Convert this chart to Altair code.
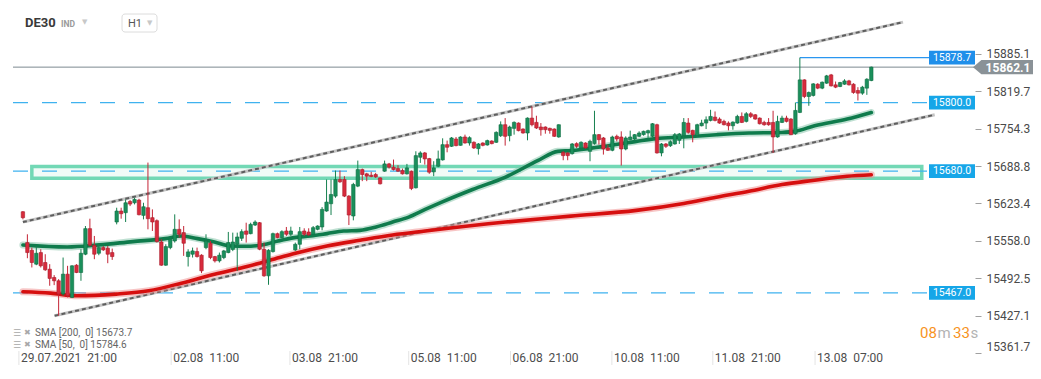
import altair as alt
import pandas as pd

# ---------------- data ----------------
opens = [15609.0, 15555.0, 15541.6, 15517.2, 15537.5, 15520.1, 15508.4, 15493.9, 15488.1, 15464.9,
         15499.7, 15459.0, 15515.4, 15502.6, 15534.6, 15579.4, 15550.3, 15536.3, 15546.2, 15545.1,
         15537.5, 15591.0, 15610.2, 15607.3, 15627.0, 15624.7, 15629.4, 15602.6, 15616.0, 15598.6,
         15593.3, 15556.1, 15515.4, 15546.2, 15557.8, 15578.2, 15572.4, 15530.5, 15534.6, 15539.3,
         15532.9, 15546.2, 15553.8, 15530.5, 15523.0, 15528.8, 15537.5, 15543.0, 15552.0, 15562.5,
         15575.3, 15570.6, 15585.7, 15589.8, 15543.3, 15496.8, 15539.2, 15570.6, 15563.7, 15575.3,
         15569.5, 15542.2, 15552.0, 15575.3, 15573.5, 15569.5, 15578.2, 15582.3, 15610.2, 15623.0,
         15636.3, 15665.4, 15665.4, 15636.3, 15601.5, 15653.8, 15682.8, 15675.3, 15672.9, 15674.1,
         15668.2, 15679.9, 15692.7, 15686.9, 15684.6, 15681.1, 15675.3, 15679.9, 15650.9, 15704.3,
         15711.9, 15702.0, 15678.8, 15688.6, 15699.7, 15726.4, 15723.5, 15736.3, 15725.2, 15739.8,
         15729.3, 15730.5, 15719.4, 15729.3, 15725.8, 15732.8, 15730.5, 15742.1, 15761.3, 15742.1,
         15754.9, 15764.2, 15753.8, 15746.8, 15772.9, 15765.4, 15757.3, 15757.3, 15754.9, 15753.8,
         15739.8, 15713.0, 15711.9, 15710.7, 15728.2, 15720.6, 15729.3, 15714.8, 15728.2, 15743.9,
         15738.1, 15720.6, 15716.5, 15741.0, 15739.8, 15718.8, 15735.1, 15736.3, 15741.0, 15743.9,
         15746.8, 15741.0, 15761.3, 15711.9, 15727.6, 15724.6, 15727.6, 15734.0, 15742.1, 15764.2,
         15751.4, 15742.1, 15759.5, 15764.2, 15768.8, 15774.6, 15771.2, 15767.1, 15764.2, 15759.5,
         15764.2, 15775.8, 15767.1, 15780.5, 15778.7, 15772.9, 15765.3, 15765.3, 15765.3, 15739.8,
         15765.3, 15772.9, 15771.2, 15745.6, 15782.8, 15839.8, 15810.7, 15812.5, 15832.2, 15825.3,
         15834.0, 15848.5, 15831.1, 15828.2, 15832.2, 15838.0, 15832.2, 15821.2, 15816.5, 15825.3,
         15838.6]
highs = [15610.2, 15569.5, 15546.2, 15549.1, 15543.3, 15534.6, 15517.2, 15498.0, 15491.0, 15528.8,
         15514.3, 15515.4, 15517.2, 15543.3, 15584.0, 15596.8, 15566.6, 15552.1, 15549.1, 15549.1,
         15544.5, 15616.0, 15616.0, 15630.5, 15629.4, 15633.4, 15631.7, 15624.7, 15695.0, 15613.1,
         15595.6, 15560.8, 15552.1, 15563.7, 15604.4, 15595.6, 15584.0, 15543.3, 15546.2, 15546.2,
         15534.6, 15569.5, 15557.8, 15531.7, 15537.5, 15542.2, 15573.6, 15572.4, 15572.4, 15578.2,
         15589.8, 15589.8, 15593.9, 15591.0, 15555.0, 15543.3, 15572.4, 15572.4, 15576.5, 15582.3,
         15582.8, 15555.0, 15582.3, 15580.0, 15580.0, 15584.0, 15585.2, 15617.1, 15665.4, 15665.4,
         15681.1, 15681.1, 15671.2, 15638.1, 15659.6, 15698.5, 15684.6, 15677.0, 15678.8, 15677.0,
         15669.4, 15698.5, 15694.4, 15700.3, 15690.4, 15684.6, 15692.7, 15681.1, 15714.8, 15714.8,
         15713.6, 15703.2, 15697.4, 15716.0, 15737.5, 15733.5, 15739.8, 15739.8, 15741.0, 15743.9,
         15741.0, 15732.2, 15729.3, 15730.5, 15735.1, 15734.0, 15749.7, 15767.1, 15772.9, 15759.6,
         15767.1, 15765.4, 15754.9, 15774.1, 15793.3, 15777.0, 15764.2, 15758.4, 15756.1, 15754.9,
         15761.9, 15714.8, 15713.0, 15729.3, 15730.5, 15732.2, 15730.5, 15735.1, 15785.7, 15745.0,
         15739.8, 15726.4, 15742.1, 15743.9, 15749.7, 15741.0, 15750.9, 15745.0, 15749.7, 15750.9,
         15752.6, 15764.2, 15763.0, 15729.3, 15729.3, 15734.0, 15746.8, 15746.8, 15772.9, 15772.9,
         15752.5, 15763.0, 15770.0, 15775.8, 15787.4, 15784.5, 15774.1, 15770.0, 15767.1, 15767.1,
         15778.7, 15782.8, 15783.4, 15783.4, 15779.9, 15774.1, 15768.2, 15772.9, 15785.7, 15777.0,
         15777.0, 15777.0, 15772.9, 15800.2, 15878.7, 15840.9, 15819.4, 15834.0, 15834.0, 15836.9,
         15848.5, 15850.2, 15836.9, 15836.3, 15840.9, 15839.8, 15834.0, 15827.0, 15829.3, 15842.7,
         15863.0]
lows = [15595.6, 15527.6, 15511.4, 15515.4, 15511.4, 15505.5, 15479.4, 15480.5, 15427.1, 15461.9,
        15459.0, 15457.9, 15501.5, 15488.1, 15532.9, 15548.0, 15525.9, 15532.9, 15540.4, 15518.9,
        15524.7, 15586.9, 15596.8, 15591.0, 15618.9, 15621.8, 15602.6, 15595.6, 15578.2, 15575.3,
        15555.0, 15514.3, 15514.3, 15543.3, 15555.0, 15563.7, 15531.7, 15513.1, 15528.8, 15528.8,
        15501.5, 15543.3, 15525.9, 15520.1, 15520.1, 15525.9, 15536.3, 15540.0, 15505.5, 15557.8,
        15555.0, 15569.5, 15584.0, 15541.6, 15495.1, 15481.1, 15537.5, 15562.5, 15562.5, 15566.6,
        15566.6, 15540.4, 15543.3, 15566.6, 15567.1, 15568.3, 15576.5, 15576.5, 15609.0, 15603.2,
        15633.4, 15659.6, 15634.6, 15585.7, 15593.9, 15652.0, 15662.5, 15662.5, 15669.4, 15668.2,
        15656.7, 15678.8, 15684.6, 15681.1, 15678.8, 15674.1, 15674.1, 15646.8, 15649.7, 15694.4,
        15691.5, 15675.3, 15671.2, 15686.9, 15698.5, 15713.0, 15722.3, 15723.5, 15724.7, 15728.2,
        15724.7, 15718.8, 15709.0, 15723.5, 15724.7, 15727.0, 15729.3, 15739.8, 15724.7, 15732.2,
        15743.9, 15749.7, 15745.6, 15734.0, 15758.4, 15753.8, 15742.1, 15745.6, 15745.6, 15739.8,
        15738.6, 15699.1, 15699.1, 15709.0, 15720.6, 15718.8, 15719.4, 15697.4, 15726.4, 15726.4,
        15709.0, 15715.4, 15714.8, 15732.2, 15689.8, 15716.5, 15734.0, 15734.0, 15739.8, 15742.1,
        15738.1, 15739.8, 15710.7, 15706.0, 15720.6, 15722.3, 15726.4, 15727.6, 15720.0, 15745.6,
        15730.5, 15739.8, 15758.4, 15753.7, 15767.1, 15767.1, 15763.0, 15760.1, 15751.4, 15752.5,
        15763.0, 15764.2, 15765.3, 15772.9, 15770.0, 15761.8, 15759.5, 15759.5, 15711.9, 15738.6,
        15764.2, 15765.3, 15743.2, 15743.8, 15781.6, 15807.8, 15794.4, 15810.7, 15823.5, 15823.5,
        15832.8, 15828.2, 15825.3, 15827.0, 15831.1, 15829.9, 15815.4, 15803.7, 15813.6, 15813.6,
        15837.5]
closes = [15598.6, 15537.5, 15520.1, 15536.3, 15514.3, 15507.3, 15492.2, 15488.1, 15464.9, 15499.7,
          15461.9, 15514.3, 15502.6, 15536.3, 15579.4, 15550.3, 15534.6, 15546.2, 15542.2, 15534.6,
          15530.5, 15610.2, 15605.5, 15624.7, 15622.4, 15630.5, 15603.8, 15617.7, 15596.8, 15591.0,
          15556.7, 15515.4, 15548.0, 15560.8, 15578.2, 15569.5, 15553.8, 15538.7, 15540.4, 15530.5,
          15505.5, 15557.8, 15528.8, 15523.0, 15532.9, 15540.4, 15555.0, 15556.0, 15564.8, 15574.1,
          15569.5, 15586.9, 15591.0, 15543.3, 15496.8, 15541.6, 15570.6, 15563.7, 15574.1, 15569.5,
          15575.3, 15552.0, 15574.1, 15569.5, 15568.3, 15581.1, 15584.0, 15613.1, 15625.9, 15639.2,
          15665.4, 15661.3, 15636.3, 15603.2, 15656.7, 15682.8, 15674.1, 15671.2, 15670.6, 15670.0,
          15657.9, 15692.7, 15686.9, 15682.8, 15679.9, 15675.3, 15685.7, 15649.7, 15707.2, 15711.9,
          15701.4, 15678.2, 15685.7, 15701.4, 15726.4, 15721.8, 15738.1, 15724.7, 15739.8, 15729.3,
          15738.6, 15720.6, 15727.6, 15725.2, 15733.5, 15728.2, 15747.9, 15761.3, 15741.0, 15757.3,
          15765.4, 15750.9, 15746.8, 15772.9, 15761.3, 15755.5, 15752.6, 15752.6, 15751.4, 15741.0,
          15761.3, 15707.2, 15707.2, 15727.6, 15723.5, 15730.5, 15720.6, 15732.2, 15743.9, 15735.1,
          15718.8, 15716.5, 15739.8, 15736.3, 15718.8, 15738.1, 15739.8, 15743.9, 15746.8, 15749.7,
          15750.9, 15763.0, 15711.9, 15727.6, 15723.5, 15731.6, 15743.8, 15745.0, 15765.3, 15747.9,
          15743.8, 15761.3, 15764.2, 15770.0, 15775.8, 15768.8, 15764.2, 15761.3, 15759.5, 15765.9,
          15775.8, 15765.3, 15780.5, 15775.8, 15771.2, 15763.0, 15761.3, 15761.3, 15739.8, 15767.1,
          15772.9, 15767.1, 15743.8, 15786.3, 15839.8, 15810.7, 15817.7, 15832.8, 15825.3, 15835.7,
          15846.8, 15829.3, 15827.0, 15835.1, 15838.0, 15831.1, 15817.7, 15816.5, 15827.0, 15840.9,
          15862.1]

sma50_pos = [0, 9.9, 17.1, 24.6, 31.9, 35.6, 39.1, 42.9, 46.6, 49.9, 53.8, 57.1, 60.8, 64.4, 68.1,
             71.8, 75.5, 79.1, 82.8, 86.4, 90.1, 93.8, 100.7, 108.1, 115.4, 119.8, 122.7, 130.1,
             137.4, 141.8, 148.0, 155.3, 162.6, 170.0, 172.9, 177.3, 184.6, 190.0]
sma50_val = [15550.8, 15547.3, 15551.0, 15556.7, 15561.9, 15566.5, 15561.9, 15556.0, 15549.0,
             15548.5, 15551.1, 15557.7, 15563.7, 15566.5, 15570.7, 15575.2, 15576.4, 15582.2,
             15590.9, 15599.6, 15613.0, 15625.8, 15647.9, 15669.7, 15698.8, 15714.7, 15715.9,
             15723.4, 15732.1, 15736.9, 15739.8, 15743.8, 15746.8, 15747.8, 15749.6, 15759.5,
             15771.2, 15782.7]
sma200_pos = [0, 6.2, 12.1, 20.9, 28.2, 35.5, 42.9, 50.2, 57.5, 60.8, 68.1, 75.5, 82.8, 90.1,
              108.1, 122.7, 137.4, 148.0, 155.3, 162.6, 170.0, 177.3, 184.6, 190.0]
sma200_val = [15468.8, 15466.5, 15461.8, 15464.8, 15470.6, 15484.0, 15499.7, 15513.1, 15528.8,
              15535.8, 15549.0, 15559.0, 15568.2, 15575.2, 15590.9, 15601.3, 15611.3, 15623.5,
              15634.5, 15644.9, 15656.6, 15664.1, 15671.1, 15673.7]

upper_pos = [0.0, 197.1]
upper_val = [15590.9, 15940.9]
lower_pos = [7.1, 204.2]
lower_val = [15426.9, 15778.7]

zone_pos = [2.0, 201.3]
zone_val = [15667.6, 15688.0]

level_vals = [15800.0, 15680.0, 15467.0]
resist_val = 15878.7
resist_start = 174
last_price = 15862.1

x_tick_pos = [-0.9, 33.2, 59.8, 86.4, 109.2, 131.9, 154.5, 177.4]
x_tick_labels = ["29.07.2021\u00a0\u00a021:00", "02.08\u00a0\u00a011:00", "03.08\u00a0\u00a021:00",
                 "05.08\u00a0\u00a011:00", "06.08\u00a0\u00a021:00", "10.08\u00a0\u00a011:00",
                 "11.08\u00a0\u00a021:00", "13.08\u00a0\u00a007:00"]
y_ticks = [15885.1, 15819.7, 15754.3, 15688.8, 15623.4, 15558.0, 15492.5, 15427.1, 15361.7]

legend_lines = ["SMA [200,\u00a0\u00a00] 15673.7", "SMA [50,\u00a0\u00a00] 15784.6"]

# ---------------- chart ----------------
W, H = 962, 345
FONT = "Roboto"
xscale = alt.Scale(domain=[-1.1, 212.1], nice=False, zero=False)
yscale = alt.Scale(domain=[15361.7, 15965.6], nice=False, zero=False)
yaxis = alt.Axis(orient="right", values=y_ticks, format=".1f", title=None, grid=False,
                 domain=False, tickSize=6, tickColor="#a0a0a0", labelColor="#4a4a4a",
                 labelFontSize=12, labelFont=FONT, labelPadding=5, labelFlush=True,
                 labelOverlap=False)


def X(f):
    return alt.X(f"{f}:Q", scale=xscale, axis=None)


def Y(f):
    return alt.Y(f"{f}:Q", scale=yscale, axis=yaxis)


one = pd.DataFrame({"k": [0]})

cdf = pd.DataFrame({"i": list(range(len(opens))), "open": opens, "high": highs,
                    "low": lows, "close": closes})
up_df = cdf[cdf["close"] >= cdf["open"]]
dn_df = cdf[cdf["close"] < cdf["open"]]

zone_df = pd.DataFrame({"x1": [zone_pos[0]], "x2": [zone_pos[1]],
                        "v1": [zone_val[0]], "v2": [zone_val[1]]})
zone = alt.Chart(zone_df).mark_rect(fill="#f1fbf7", stroke="#72d8b5", strokeWidth=3.5).encode(
    x=X("x1"), x2="x2", y=Y("v1"), y2="v2")

lv_df = pd.DataFrame({"v": level_vals, "label": [f"{v:.1f}" for v in level_vals]})
levels = alt.Chart(lv_df).mark_rule(color="#3fb2ef", strokeWidth=1.4, strokeDash=[15, 14]).encode(
    x=alt.value(0), x2=alt.value(916), y=Y("v"))

last_df = pd.DataFrame({"v": [last_price], "label": [f"{last_price:.1f}"]})
last_line = alt.Chart(last_df).mark_rule(color="#7d8990", strokeWidth=1).encode(
    x=alt.value(0), x2=alt.value(W), y=Y("v"))

res_df = pd.DataFrame({"i": [resist_start], "v": [resist_val], "label": [f"{resist_val:.1f}"]})
res_line = alt.Chart(res_df).mark_rule(color="#2a96f0", strokeWidth=1.4).encode(
    x=X("i"), x2=alt.value(916), y=Y("v"))


def channel(pos, val):
    d = pd.DataFrame({"i": pos, "v": val})
    base = alt.Chart(d).mark_line(color="#c4c4c4", strokeWidth=3).encode(x=X("i"), y=Y("v"))
    dash = alt.Chart(d).mark_line(color="#5e5e5e", strokeWidth=2, strokeDash=[4, 3]).encode(
        x=X("i"), y=Y("v"))
    return [base, dash]


def sma(pos, val, color, halo):
    d = pd.DataFrame({"i": pos, "v": val})
    h = alt.Chart(d).mark_line(color=halo, strokeWidth=7, opacity=0.5, interpolate="monotone",
                               strokeCap="round").encode(x=X("i"), y=Y("v"))
    m = alt.Chart(d).mark_line(color=color, strokeWidth=3.6, interpolate="monotone",
                               strokeCap="round").encode(x=X("i"), y=Y("v"))
    return [h, m]


def candles(d, wick, fill, stroke):
    w = alt.Chart(d).mark_rule(strokeWidth=1, color=wick).encode(x=X("i"), y=Y("low"), y2="high")
    b = alt.Chart(d).mark_bar(width=3.4, strokeWidth=0.6, fill=fill, stroke=stroke).encode(
        x=X("i"), y=Y("open"), y2="close")
    return [w, b]


box_path = "M-1,-0.3L1,-0.3L1,0.3L-1,0.3Z"


def label_box(d, color):
    b = alt.Chart(d).mark_point(shape=box_path, size=2116, filled=True, opacity=1,
                                strokeWidth=0, color=color).encode(x=alt.value(939), y=Y("v"))
    t = alt.Chart(d).mark_text(color="white", fontSize=10.5, font=FONT).encode(
        x=alt.value(939), y=Y("v"), text="label:N")
    return [b, t]


tag_path = "M-1,0L-0.72,-0.235L1,-0.235L1,0.235L-0.72,0.235Z"
tag = alt.Chart(last_df).mark_point(shape=tag_path, size=3600, filled=True, opacity=1,
                                    strokeWidth=0, color="#8a9297").encode(
    x=alt.value(990), y=Y("v"))
tag_text = alt.Chart(last_df).mark_text(color="white", fontSize=12, fontWeight="bold",
                                        font=FONT, dy=1).encode(
    x=alt.value(995), y=Y("v"), text="label:N")

xl_df = pd.DataFrame({"pos": x_tick_pos, "label": x_tick_labels})
x_ticks = alt.Chart(xl_df).mark_rule(color="#e4e4e4", strokeWidth=1).encode(
    x=X("pos"), y=alt.value(343), y2=alt.value(357))
x_labels = alt.Chart(xl_df).mark_text(align="left", baseline="middle", fontSize=12, font=FONT,
                                      color="#4d4d4d", dx=2).encode(
    x=X("pos"), y=alt.value(350), text="label:N")


def txt(t, x, y, size, color, weight="normal", font=FONT):
    return alt.Chart(one).mark_text(text=t, align="left", baseline="middle", fontSize=size,
                                    color=color, fontWeight=weight, font=font).encode(
        x=alt.value(x), y=alt.value(y))


h1_box = alt.Chart(one).mark_rect(fill="white", stroke="#dcdcdc", strokeWidth=1,
                                  cornerRadius=3).encode(
    x=alt.value(109), x2=alt.value(144), y=alt.value(6), y2=alt.value(24))

ui = [
    txt("DE30", 12, 15, 13, "#3a3a3a", "bold"),
    txt("IND", 48, 16, 8.5, "#9a9a9a", "bold"),
    txt("\u25bc", 69, 14, 7, "#c8c8c8", font="DejaVu Sans"),
    h1_box,
    txt("H1", 115, 15.5, 11, "#555555"),
    txt("\u25bc", 134, 15, 7, "#c8c8c8", font="DejaVu Sans"),
    txt("\u2630", 0, 325, 9, "#a8a8a8", font="DejaVu Sans"),
    txt("\u2716", 11, 325, 8, "#a8a8a8", font="DejaVu Sans"),
    txt(legend_lines[0], 22, 325, 10, "#666666"),
    txt("\u2630", 0, 337, 9, "#a8a8a8", font="DejaVu Sans"),
    txt("\u2716", 11, 337, 8, "#a8a8a8", font="DejaVu Sans"),
    txt(legend_lines[1], 22, 337, 10, "#666666"),
    txt("08", 907, 325, 15, "#f7931e"),
    txt("m", 924.5, 325, 15, "#b3b3b3"),
    txt("33", 940, 325, 15, "#f7931e"),
    txt("s", 957.5, 325, 15, "#b3b3b3"),
]

layers = ([zone, levels, last_line, res_line]
          + channel(upper_pos, upper_val) + channel(lower_pos, lower_val)
          + sma(sma200_pos, sma200_val, "#d60f0f", "#f08c8c")
          + sma(sma50_pos, sma50_val, "#0f7b4c", "#7fc2a5")
          + candles(up_df, "#16804f", "#1a8f5b", "#0d6b41")
          + candles(dn_df, "#c42536", "#d82b3c", "#a81d2b")
          + label_box(res_df, "#1f8fea") + label_box(lv_df, "#16a6e8")
          + [tag, tag_text, x_ticks, x_labels] + ui)

chart = alt.layer(*layers).properties(
    width=W, height=H, background="white",
    padding={"left": 0, "top": 0, "right": 0, "bottom": 0}
).configure_view(strokeWidth=0, stroke="transparent")

chart.save("out.html", embed_options={"renderer": "svg", "actions": False})
